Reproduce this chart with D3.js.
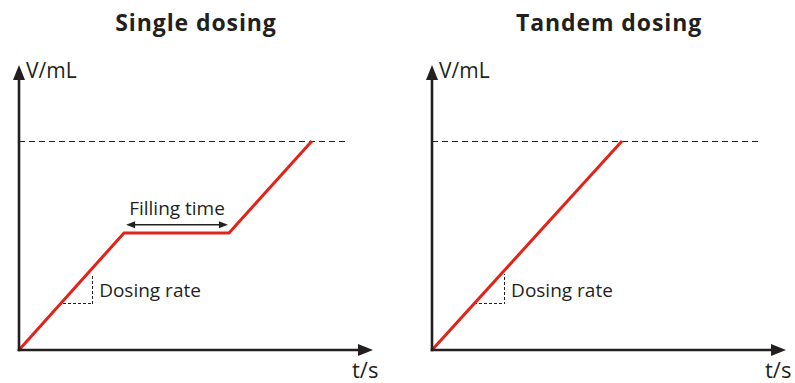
<!DOCTYPE html>
<html><head><meta charset="utf-8">
<script src="https://cdn.jsdelivr.net/npm/d3@7"></script>
<style>body{margin:0;background:#fff}svg{display:block}text{font-family:"Open Sans",sans-serif;fill:#231f20}</style>
</head><body>
<script>
// Data (arbitrary units: t in s, V in mL)
const panelTitles = ["Single dosing", "Tandem dosing"];
const singleT = [0, 3, 6, 8.37];
const singleV = [0, 5.6, 5.6, 10];
const tandemT = [0, 5.43];
const tandemV = [0, 10];
const targetV = 10;           // dashed target volume
const dashEndT = [9.43, 9.43];
// dosing-rate slope triangles: [t_left, t_right], [V_bottom, V_top]
const triSingleT = [1.22, 2.09];
const triSingleV = [2.25, 3.68];
const triTandemT = [1.17, 2.06];
const triTandemV = [2.25, 3.68];
const fillingT = [3.06, 5.97];
const fillingV = 5.99;

const W = 795, H = 383;
const svg = d3.select("body").append("svg").attr("width", W).attr("height", H);
const red = "#e2231a", ink = "#231f20";

const panels = [
  {x0: 19, title: panelTitles[0], cx: 196, T: singleT, V: singleV, triT: triSingleT, triV: triSingleV, filling: true},
  {x0: 432, title: panelTitles[1], cx: 609, T: tandemT, V: tandemV, triT: triTandemT, triV: triTandemV, filling: false}
];

panels.forEach((p, i) => {
  const x = d3.scaleLinear().domain([0, 10]).range([p.x0, p.x0 + 350]);
  const y = d3.scaleLinear().domain([0, 10]).range([350, 141]);
  const g = svg.append("g");

  g.append("text").attr("x", p.cx).attr("y", 31).attr("text-anchor", "middle")
    .style("font-weight", "bold").style("font-size", "23px").style("letter-spacing", "0.9px").text(p.title);

  // target dashed line
  g.append("line").attr("x1", x(0)).attr("x2", x(dashEndT[i])).attr("y1", y(targetV) + 0.5).attr("y2", y(targetV) + 0.5)
    .attr("stroke", ink).attr("stroke-width", 1).attr("stroke-dasharray", "6,4").attr("shape-rendering", "crispEdges");

  // triangle
  const tri = [[p.triT[0], p.triV[0]], [p.triT[1], p.triV[0]], [p.triT[1], p.triV[1]]];
  g.append("path").attr("d", d3.line().x(d => Math.round(x(d[0])) + 0.5).y(d => Math.round(y(d[1])) + 0.5)(tri))
    .attr("fill", "none").attr("stroke", ink).attr("stroke-width", 1).attr("stroke-dasharray", "3,2")
    .attr("shape-rendering", "crispEdges");
  g.append("text").attr("x", x(p.triT[1]) + 7).attr("y", 297).style("font-size", "19px").text("Dosing rate");

  // red curve
  const pts = p.T.map((t, k) => [t, p.V[k]]);
  g.append("path").attr("d", d3.line().x(d => x(d[0])).y(d => y(d[1]))(pts))
    .attr("fill", "none").attr("stroke", red).attr("stroke-width", 3).attr("stroke-linejoin", "miter");

  // axes
  g.append("line").attr("x1", x(0)).attr("x2", x(0)).attr("y1", y(0) + 1.3).attr("y2", 76)
    .attr("stroke", ink).attr("stroke-width", 2.6);
  g.append("path").attr("d", `M${x(0)-6},80 L${x(0)},65 L${x(0)+6},80 Z`).attr("fill", ink);
  g.append("line").attr("x1", x(0) - 1.3).attr("x2", x(0) + 343).attr("y1", y(0)).attr("y2", y(0))
    .attr("stroke", ink).attr("stroke-width", 2.6);
  g.append("path").attr("d", `M${x(0)+339},${y(0)-6} L${x(0)+354},${y(0)} L${x(0)+339},${y(0)+6} Z`).attr("fill", ink);

  g.append("text").attr("x", x(0) + 7).attr("y", 78).style("font-size", "21px").text("V/mL");
  g.append("text").attr("x", x(0) + 333).attr("y", 378).style("font-size", "22px").text("t/s");

  if (p.filling) {
    const ay = y(fillingV);
    const xa = x(fillingT[0]), xb = x(fillingT[1]);
    g.append("line").attr("x1", xa + 4).attr("x2", xb - 4).attr("y1", ay).attr("y2", ay)
      .attr("stroke", ink).attr("stroke-width", 1.5);
    g.append("path").attr("d", `M${xa},${ay} L${xa+9},${ay-3.5} L${xa+9},${ay+3.5} Z`).attr("fill", ink);
    g.append("path").attr("d", `M${xb},${ay} L${xb-9},${ay-3.5} L${xb-9},${ay+3.5} Z`).attr("fill", ink);
    g.append("text").attr("x", (xa + xb) / 2).attr("y", 215).attr("text-anchor", "middle")
      .style("font-size", "19px").text("Filling time");
  }
});
</script>
</body></html>
